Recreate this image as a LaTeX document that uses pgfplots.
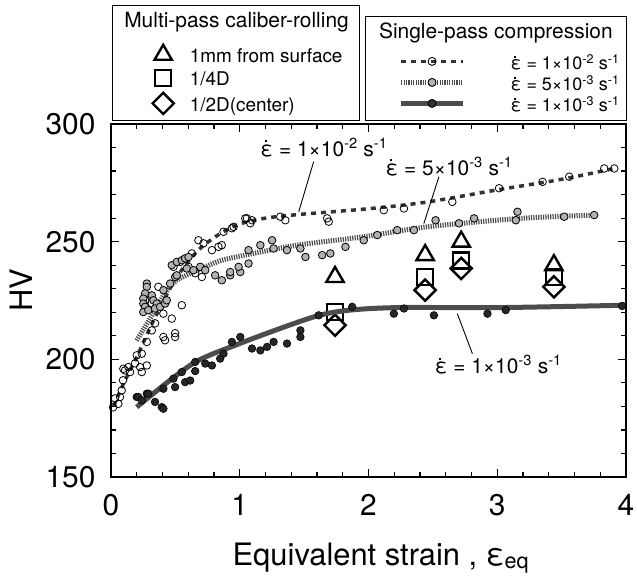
\documentclass[border=0pt]{standalone}
\usepackage{pgfplots}
\pgfplotsset{compat=1.18}
\usepackage{fontspec}
\setmainfont{TeX Gyre Heros}

\newcommand{\edot}{\rlap{\hspace{0.2em}\rule[0.66em]{0.1em}{0.1em}}ε}
\newcommand{\fs}[1]{\fontsize{#1}{#1}\selectfont}

\pgfplotsset{
  hvframe/.style={
    scale only axis, width=515bp, height=353bp,
    xmin=0, xmax=4, ymin=150, ymax=300,
    at={(0,0)}, anchor=south west,
  },
  boxlegend/.style={
    legend style={at={(axis description cs:0,1)}, anchor=south west,
      xshift=#1, yshift=3bp, draw=black, line width=1.2bp,
      inner xsep=0pt, inner ysep=3bp, row sep=1bp, column sep=0pt,
      cells={anchor=west},
      nodes={inner sep=0pt, text height=14bp, text depth=6bp}},
  },
}

\begin{document}
\begin{tikzpicture}
\useasboundingbox (-111bp,-100bp) rectangle (526bp,477bp);

% multi-pass caliber-rolling (markers only, own legend)
\begin{axis}[hvframe, hide axis, boxlegend=1bp,
  legend style={font=\fs{19}},
  legend image code/.code={\path (0bp,0bp) (76bp,0bp); \draw[#1] plot coordinates {(50bp,4bp)};},
]
\addlegendimage{empty legend}
\addlegendentry[text height=19bp, text depth=16bp]{\makebox[0pt][l]{\hspace*{-66bp}\fs{21}Multi-pass caliber-rolling}}

\addplot[only marks, mark=triangle, mark size=10bp, mark options={black, line width=2.4bp, fill=white}]
  coordinates {(1.74,235) (2.44,244.3) (2.72,250) (3.44,240)};
\addlegendentry{\makebox[170bp][l]{1mm from surface}}
\addplot[only marks, mark=square, mark size=8bp, mark options={black, line width=2.4bp, fill=white}]
  coordinates {(1.74,220.1) (2.44,235) (2.72,242) (3.44,235)};
\addlegendentry{1/4D}
\addplot[only marks, mark=square, mark size=7.5bp, mark options={black, line width=2.4bp, fill=white, rotate=45}]
  coordinates {(1.74,214.5) (2.44,229.4) (2.72,238.6) (3.44,230.8)};
\addlegendentry{1/2D(center)}
\end{axis}

% single-pass compression
\begin{axis}[hvframe, boxlegend=254bp,
  legend style={font=\fs{18}},
  legend image code/.code={\path (0bp,0bp) (140bp,0bp);
    \draw[#1, mark=none] (33bp,4bp) -- (95bp,4bp);
    \draw[#1, only marks] plot coordinates {(64bp,4bp)};},
  xtick={0,1,2,3,4}, ytick={150,200,250,300},
  minor x tick num=4, minor y tick num=4,
  tick align=inside, major tick length=8bp, minor tick length=5bp,
  axis line style={line width=1.5bp},
  every tick/.style={black, line width=1.2bp},
  tick label style={font=\fs{30}},
  /pgf/number format/assume math mode=true,
  xticklabel style={yshift=-14bp},
  yticklabel style={xshift=-12bp},
  xlabel={Equivalent strain , ε\textsubscript{eq}},
  xlabel style={font=\fs{31}, at={(axis description cs:0.524,0)}, anchor=base, yshift=-88bp},
  ylabel={HV},
  ylabel style={font=\fs{31}, at={(axis description cs:-0.175,0.53)}, anchor=center},
]
\addlegendimage{empty legend}
\addlegendentry[text height=19bp, text depth=16bp]{\makebox[0pt][l]{\hspace*{-132bp}\fs{21}Single-pass compression}}
\addlegendimage{black!80, line width=3.5bp, dash pattern=on 5bp off 5bp,
  mark=o, mark size=4bp, mark options={solid, black, line width=0.9bp, fill=white}}
\addlegendentry{\makebox[116bp][l]{\edot{} = 1×10\textsuperscript{-2} s\textsuperscript{-1}}}
\addlegendimage{black!70, line width=5bp, dash pattern=on 1.2bp off 1.2bp,
  mark=*, mark size=4bp, mark options={solid, draw=black, fill=gray!60, line width=0.9bp}}
\addlegendentry{\edot{} = 5×10\textsuperscript{-3} s\textsuperscript{-1}}
\addlegendimage{black!70, line width=5bp,
  mark=*, mark size=4bp, mark options={solid, draw=black, fill=black!80, line width=0.9bp}}
\addlegendentry{\edot{} = 1×10\textsuperscript{-3} s\textsuperscript{-1}}

% fitted curves
\addplot[forget plot, smooth, black!80, line width=3.5bp, dash pattern=on 5bp off 5bp] coordinates {
  (0.02,180) (0.1,190) (0.2,201) (0.3,213) (0.4,224) (0.5,234) (0.6,241.5) (0.7,247.5)
  (0.85,253.5) (1.0,257.5) (1.2,260) (1.45,261.5) (2.0,264) (2.45,266.8) (3.0,272)
  (3.5,276.5) (3.9,281)};
\addplot[forget plot, smooth, black!70, line width=5bp, dash pattern=on 1.2bp off 1.2bp] coordinates {
  (0.2,208) (0.342,220.9) (0.42,228.1) (0.511,233.6) (0.732,239.3) (0.861,242.1)
  (1.043,244.3) (1.445,248.5) (1.963,252.1) (2.457,256.3) (3.183,259.9) (3.753,261.3)};
\addplot[forget plot, smooth, black!70, line width=5bp] coordinates {
  (0.2,179.7) (0.63,198) (0.99,206.5) (1.41,215) (1.64,219) (1.87,221) (2.24,222)
  (3.03,222) (4,223)};

% measured points, 1e-2
\addplot[forget plot, only marks, mark=o, mark size=3.8bp, mark options={black, line width=0.8bp}] coordinates {
  (0.016,179.6) (0.057,181.1) (0.031,183.4) (0.07,184) (0.083,186.8) (0.093,191.1)
  (0.109,195.3) (0.135,196.7) (0.096,196) (0.148,194.6) (0.187,198.3) (0.2,201.7)
  (0.239,202.4) (0.226,196.7) (0.239,194.6) (0.278,197.4) (0.278,207.4) (0.342,215.3)
  (0.317,212.3) (0.407,209.5) (0.42,208.1) (0.498,211.1) (0.498,209.5) (0.472,217.3)
  (0.55,223) (0.407,219.4) (0.317,223.8) (0.265,225.1) (0.368,230.8) (0.485,239.3)
  (0.537,241.4) (0.602,239.3) (0.628,245) (0.654,236.6) (0.706,235) (0.679,250.6)
  (0.718,249.3) (0.784,246.4) (0.835,247.8) (0.86,248.5) (0.874,254.2) (0.939,255.7)
  (0.952,256.3) (1.056,259.9) (1.095,259.1) (1.043,259.9) (1.082,257.8) (1.315,260.6)
  (1.354,259.1) (1.679,259.9) (1.691,258.5) (2.119,263.4) (2.275,264.1) (2.651,266.9)
  (3.014,272.7) (3.352,275.4) (3.559,277.6) (3.831,281.1) (3.909,281.1)};
% measured points, 5e-3
\addplot[forget plot, only marks, mark=*, mark size=3.8bp, mark options={draw=black, fill=gray!60, line width=0.8bp}] coordinates {
  (0.278,232.2) (0.278,230.8) (0.265,228) (0.251,225.8) (0.251,223.7) (0.265,222.3)
  (0.251,220.1) (0.29,220.9) (0.317,227.2) (0.329,225.1) (0.356,223.7) (0.342,221.6)
  (0.381,222.3) (0.42,223.7) (0.433,225.1) (0.407,229.4) (0.459,232.2) (0.498,235)
  (0.472,240) (0.511,241.4) (0.55,242.1) (0.576,242.9) (0.602,243.5) (0.511,235.7)
  (0.589,238.6) (0.64,237.9) (0.693,239.3) (0.732,237.9) (0.809,235.7) (0.861,233.6)
  (0.926,235.7) (0.926,237.1) (1.004,237.1) (1.068,240.7) (1.068,246.4) (1.16,248.5)
  (1.251,250.6) (1.263,247.1) (1.367,246.4) (1.471,247.1) (1.51,243.5) (1.64,244.3)
  (1.704,245) (1.821,247.8) (1.963,250.6) (2.068,252.8) (2.223,254.9) (2.353,254.9)
  (0.991,239.3) (2.521,259.1) (2.703,257.8) (2.82,259.9) (3.144,259.1) (3.157,262.7)
  (3.52,260.6) (3.753,261.3)};
% measured points, 1e-3
\addplot[forget plot, only marks, mark=*, mark size=3.8bp, mark options={draw=black, fill=black!85, line width=0.6bp}] coordinates {
  (0.2,184) (0.212,184) (0.278,185.4) (0.29,185.4) (0.239,182.6) (0.342,181.9)
  (0.394,179.7) (0.407,179) (0.407,187.5) (0.485,191.8) (0.498,188.2) (0.55,194.6)
  (0.576,190.3) (0.615,191) (0.654,198.9) (0.654,195) (0.732,198.2) (0.784,197.4)
  (0.848,200.3) (0.874,202.4) (0.939,207.4) (1.004,209.5) (1.095,204.6) (1.16,203.8)
  (1.212,205.3) (1.263,207.4) (1.367,206.7) (1.471,212.3) (1.471,209.5) (1.613,218.7)
  (1.873,222.3) (2.197,219.4) (2.275,221.6) (2.508,218.7) (2.924,219.4) (3.066,220.9)
  (3.97,222.7)};

% annotations
\node[anchor=base, font=\fs{21}] at (axis cs:1.654,286.4) {\edot{} = 1×10\textsuperscript{-2} s\textsuperscript{-1}};
\draw[line width=0.9bp] (axis cs:1.574,284) -- (axis cs:1.458,262.7);
\node[anchor=base, font=\fs{21}] at (axis cs:2.626,278.3) {\edot{} = 5×10\textsuperscript{-3} s\textsuperscript{-1}};
\draw[line width=0.9bp] (axis cs:2.547,277.6) -- (axis cs:2.43,257.7);
\node[anchor=base, font=\fs{21}] at (axis cs:3.008,194) {\edot{} = 1×10\textsuperscript{-3} s\textsuperscript{-1}};
\draw[line width=0.9bp] (axis cs:2.69,219.4) -- (axis cs:2.807,202.4);
\end{axis}
\end{tikzpicture}
\end{document}
